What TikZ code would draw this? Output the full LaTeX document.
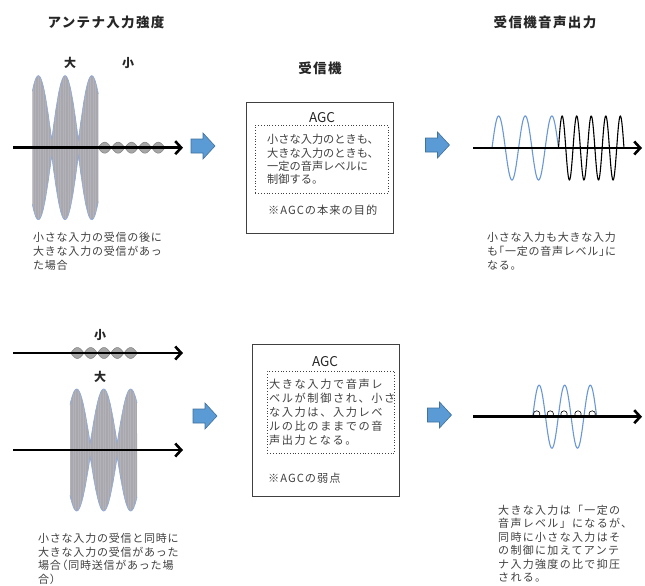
\documentclass[tikz,border=0pt]{standalone}
\usepackage{fontspec}
\setmainfont{Noto Sans CJK JP}
\usetikzlibrary{arrows.meta}
\definecolor{txt}{HTML}{404040}
\definecolor{blockfill}{HTML}{5B9BD5}
\definecolor{blockline}{HTML}{41719C}
\definecolor{wave}{HTML}{6A97D9}
\definecolor{lobe}{HTML}{A8A8AE}
\definecolor{lobestripe}{HTML}{B2B2B8}
\definecolor{lobeline}{HTML}{8EAADB}
\newcommand\bodyfont{\fontsize{11}{13.7}\selectfont\addfontfeature{LetterSpace=7}}
\newcommand\boxfont{\fontsize{11.2}{13.4}\selectfont}
\newcommand\boxfontb{\fontsize{11.2}{14}\selectfont\addfontfeature{LetterSpace=14}}
\newcommand\notefont{\fontsize{11.2}{14}\selectfont\addfontfeature{LetterSpace=9}}
\newcommand\titlefont{\fontsize{13.5}{16}\selectfont\bfseries\addfontfeature{LetterSpace=10}}
\begin{document}
\begin{tikzpicture}[x=1pt,y=-1pt,
  declare function={lenv(\x,\v,\p,\a,\b)=\a+\b*abs(sin(180/\p*(\x-\v)));},
  axis/.style={line width=2.6pt,-{Straight Barb[length=6pt,width=13pt]}},
  mainbox/.style={draw=txt,line width=1.2pt,fill=white,anchor=north west,inner sep=0},
  dotbox/.style={draw=txt,dotted,line width=0.8pt,anchor=north west,inner sep=0},
  boxtext/.style={anchor=north west,inner sep=0,align=left,text=txt},
  note/.style={anchor=north west,inner sep=0,align=left,text=txt,font=\bodyfont},
  title/.style={inner sep=0,text=black!85,font=\titlefont},
  size/.style={inner sep=0,text=black!85,font=\fontsize{12}{14}\selectfont\bfseries},
  blockarr/.pic={\filldraw[fill=blockfill,draw=blockline,line width=0.6pt]
     (-12,-7) -- (0,-7) -- (0,-13) -- (12,0) -- (0,13) -- (0,7) -- (-12,7) -- cycle;},
  bigwave/.style={line width=1.1pt},
  smalllobe/.style={fill=gray!70,draw=gray,line width=0.5pt}
]
\useasboundingbox (0,0) rectangle (645,586);
\fill[white] (0,0) rectangle (645,586);

% ---------------- titles
\node[title] (t_in) at (106,22) {アンテナ入力強度};
\node[title] (t_rx) at (320,68) {受信機};
\node[title] (t_out) at (545,22) {受信機音声出力};

% ================= TOP ROW
\node[size] (l_big1) at (70,63) {大};
\node[size] (l_small1) at (128,63) {小};

% big lobes
\begin{scope}
\clip plot[domain=32.3:98.3,samples=200] (\x,{147.7-lenv(\x,25,26.7,8,64)})
   -- plot[domain=98.3:32.3,samples=200] (\x,{147.7+lenv(\x,25,26.7,8,64)}) -- cycle;
\fill[lobe] (30,60) rectangle (100,230);
\foreach \s in {33,35.5,...,99} \draw[lobestripe,line width=1pt] (\s,60) -- (\s,230);
\end{scope}
\draw[lobeline,line width=0.6pt] plot[domain=32.3:98.3,samples=200] (\x,{147.7-lenv(\x,25,26.7,8,64)});
\draw[lobeline,line width=0.6pt] plot[domain=32.3:98.3,samples=200] (\x,{147.7+lenv(\x,25,26.7,8,64)});
% small lobes
\filldraw[smalllobe]
  plot[domain=98:165,samples=150] (\x,{147.7-5.5*abs(sin(180/13.4*(\x-98)))})
  -- plot[domain=165:98,samples=150] (\x,{147.7+5.5*abs(sin(180/13.4*(\x-98)))}) -- cycle;
\coordinate (a1s) at (13,147.7);
\coordinate (a1e) at (183,147.7);
\draw[axis] (a1s) -- (a1e);
\pic at (203,146) {blockarr};

\node[note] (n1) at (33,232.5) {小さな入力の受信の後に\\大きな入力の受信があっ\\た場合};

% box 1
\node[mainbox,minimum width=147.5pt,minimum height=131.5pt] (box1) at (245.5,101.5) {};
\node[inner sep=0,text=black!85,font=\fontsize{13.5}{15}\selectfont] (agc1) at (322,118) {AGC};
\node[dotbox,minimum width=133pt,minimum height=68pt] (dot1) at (255,125) {};
\node[boxtext,font=\boxfont] (bt1) at (267,134.2) {小さな入力のときも、\\大きな入力のときも、\\一定の音声レベルに\\制御する。};
\node[boxtext,anchor=west,font=\notefont] (bn1) at (268,210) {※AGCの本来の目的};

\pic at (437.5,145) {blockarr};

% output top
\draw[wave,bigwave] plot[domain=492:558.5,samples=200] (\x,{148-32*sin(360/26.6*(\x-492))});
\draw[black,bigwave] plot[domain=558.5:624,samples=200] (\x,{148-32*sin(360/14.55*(\x-558.5))});
\coordinate (o1s) at (473,148);
\coordinate (o1e) at (642,148);
\draw[axis] (o1s) -- (o1e);
\node[note] (n2) at (487,232.5) {小さな入力も大きな入力\\も\kern-0.45em「一定の音声レベル」\kern-0.45em に\\なる。};

% ================= BOTTOM ROW
\node[size] (l_small2) at (100,335) {小};
\node[size] (l_big2) at (100,377) {大};
\filldraw[smalllobe]
  plot[domain=70.7:137.3,samples=150] (\x,{353-5.5*abs(sin(180/13.32*(\x-70.7)))})
  -- plot[domain=137.3:70.7,samples=150] (\x,{353+5.5*abs(sin(180/13.32*(\x-70.7)))}) -- cycle;
\coordinate (a2s) at (13,353);
\coordinate (a2e) at (183,353);
\draw[axis] (a2s) -- (a2e);

\begin{scope}
\clip plot[domain=70:137,samples=200] (\x,{450-lenv(\x,63.2,27,7,54)})
   -- plot[domain=137:70,samples=200] (\x,{450+lenv(\x,63.2,27,7,54)}) -- cycle;
\fill[lobe] (68,380) rectangle (140,520);
\foreach \s in {70.5,73,...,137} \draw[lobestripe,line width=1pt] (\s,380) -- (\s,520);
\end{scope}
\draw[lobeline,line width=0.6pt] plot[domain=70:137,samples=200] (\x,{450-lenv(\x,63.2,27,7,54)});
\draw[lobeline,line width=0.6pt] plot[domain=70:137,samples=200] (\x,{450+lenv(\x,63.2,27,7,54)});
\coordinate (a3s) at (13,450);
\coordinate (a3e) at (183,450);
\draw[axis] (a3s) -- (a3e);
\pic at (205,416) {blockarr};

\node[note] (n3) at (38,533) {小さな入力の受信と同時に\\大きな入力の受信があった\\場合\kern-0.4em（同時送信があった場\\合）};

% box 2
\node[mainbox,minimum width=147pt,minimum height=152pt] (box2) at (252,344) {};
\node[inner sep=0,text=black!85,font=\fontsize{13.5}{15}\selectfont] (agc2) at (325,362) {AGC};
\node[dotbox,minimum width=127pt,minimum height=82pt] (dot2) at (267,371) {};
\node[boxtext,font=\boxfontb] (bt2) at (269,378.5) {大きな入力で音声レ\\ベルが制御され、小さ\\な入力は、入力レベ\\ルの比のままでの音\\声出力となる。};
\node[boxtext,anchor=west,font=\notefont] (bn2) at (268,478) {※AGCの弱点};

\pic at (439.5,415) {blockarr};

% output bottom
\draw[wave,bigwave] plot[domain=532.7:596.7,samples=200] (\x,{416.7-31.5*sin(360/25.6*(\x-532.7))});
\foreach \cx in {536.7,550.3,564,578,592.2}
  \draw[black,line width=0.6pt] (\cx,414) circle[radius=3.2pt];
\coordinate (o2s) at (473,416.7);
\coordinate (o2e) at (642,416.7);
\draw[axis] (o2s) -- (o2e);
\node[note,font=\fontsize{11}{13.4}\selectfont\addfontfeature{LetterSpace=12}] (n4) at (498,505) {大きな入力は「一定の\\音声レベル」になるが、\\同時に小さな入力はそ\\の制御に加えてアンテ\\ナ入力強度の比で抑圧\\される。};
\end{tikzpicture}
\end{document}
